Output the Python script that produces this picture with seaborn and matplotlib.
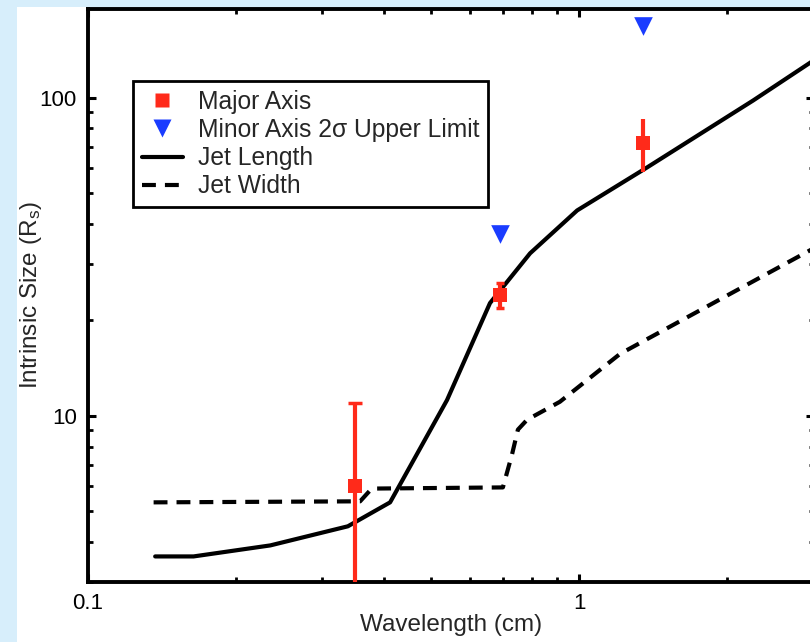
import numpy as np
import pandas as pd
import matplotlib
matplotlib.use("Agg")
import matplotlib.pyplot as plt
import seaborn as sns
from matplotlib.ticker import LogLocator, NullFormatter, FixedLocator, FixedFormatter
from matplotlib.lines import Line2D
from matplotlib.patches import Rectangle

# ---- data ----
len_x = [0.137, 0.164, 0.235, 0.338, 0.412, 0.538, 0.658, 0.794, 0.99, 1.373, 2.257, 3.0]
len_y = [3.61, 3.61, 3.91, 4.49, 5.34, 11.2, 22.6, 32.4, 44.2, 60.3, 97.9, 131.0]
wid_x = [0.136, 0.358, 0.378, 0.699, 0.7295, 0.750, 0.783, 0.913, 1.21, 3.0]
wid_y = [5.34, 5.38, 5.90, 5.95, 7.55, 9.04, 9.71, 11.06, 15.64, 33.6]
maj_x = [0.35, 0.69, 1.35]
maj_y = [6.0, 24.0, 72.0]
maj_err = [5.0, 2.2, 13.7]
min_x = [0.69, 1.35]
min_y = [37.2, 168.0]
x_ticks = [0.1, 1]
x_ticklabels = ["0.1", "1"]
y_ticks = [10, 100]
y_ticklabels = ["10", "100"]

RED = "#ff2a1a"
BLUE = "#1a3cff"
BG = "#d7eefb"

sns.set_style("ticks")
plt.rcParams["font.family"] = ["Liberation Sans", "DejaVu Sans"]
plt.rcParams["mathtext.fontset"] = "custom"
plt.rcParams["mathtext.rm"] = "Liberation Sans"
plt.rcParams["mathtext.it"] = "Liberation Sans"
plt.rcParams["lines.scale_dashes"] = False

fig = plt.figure(figsize=(8.1, 6.42), dpi=100, facecolor=BG)
fig.patches.append(Rectangle((17 / 810, 0), 1, 1 - 7 / 642, transform=fig.transFigure,
                             facecolor="white", edgecolor="none", zorder=-10))
ax = fig.add_axes([88 / 810, 1 - 582 / 642, 725.7 / 810, 573 / 642])
ax.set_facecolor("white")

len_df = pd.DataFrame({"x": len_x, "y": len_y})
wid_df = pd.DataFrame({"x": wid_x, "y": wid_y})
sns.lineplot(data=len_df, x="x", y="y", ax=ax, color="black", linewidth=3,
             sort=False, estimator=None, zorder=2)
sns.lineplot(data=wid_df, x="x", y="y", ax=ax, color="black", linewidth=3,
             sort=False, estimator=None, zorder=2)
ax.lines[-1].set_dashes([10, 6.5])

caps = [5, 3, 0]
for xi, yi, ei, ci in zip(maj_x, maj_y, maj_err, caps):
    ax.errorbar([xi], [yi], yerr=[ei], fmt="none", ecolor=RED, elinewidth=3,
                capsize=ci, capthick=2.5, zorder=3)
sns.scatterplot(x=maj_x, y=maj_y, ax=ax, marker="s", s=100, color=RED,
                linewidth=0, zorder=4)
sns.scatterplot(x=min_x, y=min_y, ax=ax, marker="v", s=180, color=BLUE,
                linewidth=0, zorder=4, clip_on=False)

ax.set_xscale("log")
ax.set_yscale("log")
ax.set_xlim(0.1, 3.0)
ax.set_ylim(3.0, 190)

ax.xaxis.set_major_locator(FixedLocator(x_ticks))
ax.xaxis.set_major_formatter(FixedFormatter(x_ticklabels))
ax.yaxis.set_major_locator(FixedLocator(y_ticks))
ax.yaxis.set_major_formatter(FixedFormatter(y_ticklabels))
ax.xaxis.set_minor_locator(LogLocator(base=10, subs=np.arange(2, 10)))
ax.yaxis.set_minor_locator(LogLocator(base=10, subs=np.arange(2, 10)))
ax.xaxis.set_minor_formatter(NullFormatter())
ax.yaxis.set_minor_formatter(NullFormatter())

ax.tick_params(which="both", direction="in", top=True, right=True, colors="black",
               labelsize=16)
ax.tick_params(which="major", length=6, width=2.2, pad=8)
ax.tick_params(which="minor", length=3.5, width=2)
for sp in ax.spines.values():
    sp.set_visible(True)
    sp.set_linewidth(2.8)
    sp.set_color("black")

ax.set_xlabel("Wavelength (cm)", fontsize=17.5, labelpad=0)
ax.set_ylabel(r"Intrinsic Size (R$_{\mathregular{s}}$)", fontsize=17.5, labelpad=-3)

handles = [
    Line2D([], [], marker="s", color=RED, ls="none", ms=10, mec="none"),
    Line2D([], [], marker="v", color=BLUE, ls="none", ms=13, mec="none"),
    Line2D([], [], color="black", lw=3),
    Line2D([], [], color="black", lw=3, dashes=[10, 6.5]),
]
labels = ["Major Axis", "Minor Axis 2\u03c3 Upper Limit", "Jet Length", "Jet Width"]
leg = ax.legend(handles, labels, loc="upper left", bbox_to_anchor=(0.062, 0.874),
                borderaxespad=0, fontsize=17.7, frameon=True, fancybox=False,
                framealpha=1, edgecolor="black", labelspacing=0.17,
                handlelength=1.7, handletextpad=0.6, borderpad=0.35)
leg.get_frame().set_linewidth(2)

fig.savefig("out.png", dpi=100, facecolor=BG)
